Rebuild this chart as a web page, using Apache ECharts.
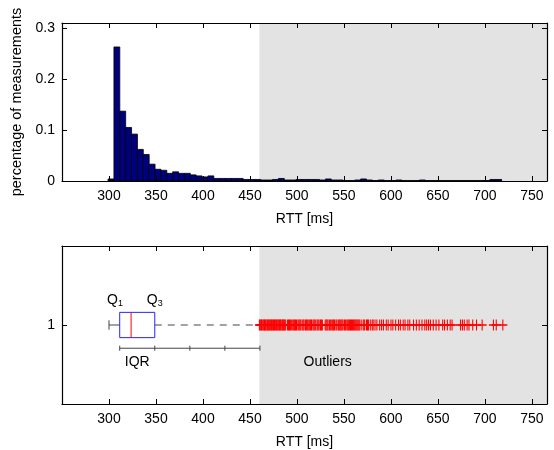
<!DOCTYPE html>
<html><head><meta charset="utf-8">
<script src="https://cdn.jsdelivr.net/npm/echarts@6/dist/echarts.min.js"></script>
<style>html,body{margin:0;padding:0;background:#fff}#c{width:554px;height:450px}</style>
</head><body><div id="c"></div>
<script>
// ---- data ----
const binStart = 299;
const binWidth = 6.25;
const histValues = [
  0.004, 0.263, 0.137, 0.105, 0.092, 0.062, 0.052, 0.033, 0.023, 0.021,
  0.015, 0.018, 0.015, 0.015, 0.012, 0.010, 0.008, 0.010, 0.005, 0.005,
  0.005, 0.005, 0.005, 0.003, 0.003, 0.003, 0.002, 0.002, 0.003, 0.005,
  0.002, 0.002, 0.003, 0.003, 0.003, 0.003, 0.002, 0.004, 0.002, 0.002,
  0.001, 0.001, 0.002, 0.004, 0.002, 0.001, 0.002, 0.001, 0.001, 0.002,
  0.001, 0.001, 0.001, 0.002, 0.001, 0.001, 0.001, 0.001, 0.001, 0.001,
  0.001, 0.001, 0.001, 0.001, 0.001, 0.003, 0.003
];
const boxStats = [300, 311.4, 323.5, 348.7, 460]; // lower whisker, Q1, median, Q3, upper whisker
const outliers = [
  460, 460.8, 461.5, 462.3, 463, 464, 464.8, 465.5, 466.3, 467, 468, 468.8, 469.5, 470.3, 471, 472, 472.8, 473.5, 474.3, 475,
  476, 476.8, 477.5, 478.3, 479, 480, 480.8, 481.5, 482.3, 483, 484, 484.8, 485.5, 486.3, 487, 488,
  490, 491, 492, 493, 494, 495.5, 496.5, 497.5, 498.5, 499.5, 501, 502, 503, 504, 505.5, 506.5, 507.5, 509, 510, 511,
  512, 513.5, 514.5, 515.5, 517, 518, 519, 520, 521.5, 522.5, 523.5, 525, 526, 527,
  530, 531, 532, 533, 534.5, 535.5, 537, 538, 539, 540, 541.5, 542.5, 544, 545, 546, 547, 548, 549, 550.5, 551.5,
  553, 554, 555, 556, 557, 558, 559, 560, 561, 562, 563, 564, 565, 566, 567,
  569, 571, 572, 574, 575, 576, 578, 580, 581, 583, 585, 588, 590, 592, 595, 597, 600, 602, 605, 608, 610, 613, 615, 618, 620,
  624, 627, 630, 633, 636, 638, 640, 642, 645, 648, 651, 655, 657, 660, 663, 665, 674, 676, 678, 681, 683, 687, 691, 697, 709, 712, 719
];
const outlierStart = 460;
const xMin = 250, xMax = 766, xStep = 50;
const histYMax = 0.31, histYStep = 0.1;
const xTitle = 'RTT [ms]';
const yTitle = 'percentage of measurements';

// ---- chart ----
const FONT = '"Liberation Sans", Arial, sans-serif';
const FS = 14;
const chart = echarts.init(document.getElementById('c'), null, {renderer: 'canvas'});

function xAx(grid, bottom) {
  return {
    type: 'value', gridIndex: grid, position: bottom ? 'bottom' : 'top',
    min: xMin, max: xMax, interval: xStep, z: 10,
    name: bottom ? xTitle : '', nameLocation: 'middle', nameGap: 31,
    nameTextStyle: {fontFamily: FONT, fontSize: FS, color: '#000'},
    axisLine: {show: true, onZero: false, lineStyle: {color: '#000', width: 1.2}},
    axisTick: {show: true, inside: true, length: 5, lineStyle: {color: '#000'}},
    axisLabel: {show: bottom, showMinLabel: false, showMaxLabel: false, margin: 8,
      fontFamily: FONT, fontSize: FS, color: '#000'},
    splitLine: {show: false}
  };
}
function yAx(grid, left, min, max, step, name, fmt) {
  return {
    type: 'value', gridIndex: grid, position: left ? 'left' : 'right',
    min: min, max: max, interval: step, z: 10,
    name: left ? name : '', nameLocation: 'middle', nameGap: 36,
    nameTextStyle: {fontFamily: FONT, fontSize: 14.5, color: '#000'},
    axisLine: {show: true, onZero: false, lineStyle: {color: '#000', width: 1.2}},
    axisTick: {show: true, inside: true, length: 5, lineStyle: {color: '#000'}},
    axisLabel: {show: left, showMaxLabel: false, showMinLabel: fmt ? false : true, margin: 7,
      fontFamily: FONT, fontSize: FS, color: '#000', formatter: fmt || (v => String(+v.toFixed(2)))},
    splitLine: {show: false}
  };
}

function shadeItem(params, api) {
  const cs = params.coordSys;
  const x0 = api.coord([api.value(0), 0])[0];
  return {type: 'rect', shape: {x: x0, y: cs.y, width: cs.x + cs.width - x0, height: cs.height},
    style: {fill: '#e3e3e3'}};
}

const gray = '#444';
function boxItem(params, api) {
  const [lo, q1, med, q3, hi] = [0,1,2,3,4].map(i => api.value(i));
  const iqr = q3 - q1;
  const c = (x, y) => api.coord([x, y]);
  const line = (a, b, st) => ({type: 'line', shape: {x1: a[0], y1: a[1], x2: b[0], y2: b[1]}, style: st});
  const g = {stroke: gray, lineWidth: 1};
  const ch = [];
  ch.push(line(c(lo, 1), c(q1, 1), g));
  ch.push(line(c(lo, 0.97), c(lo, 1.03), g));
  ch.push(line(c(q3, 1), c(hi, 1), {stroke: gray, lineWidth: 1, lineDash: [7, 6]}));
  const bt = c(q1, 1.08), bb = c(q3, 0.92);
  ch.push({type: 'rect', shape: {x: bt[0], y: bt[1], width: bb[0] - bt[0], height: bb[1] - bt[1]},
    style: {fill: null, stroke: '#2424ff', lineWidth: 1}});
  ch.push(line(c(med, 0.92), c(med, 1.08), {stroke: '#ff0000', lineWidth: 1}));
  // IQR bracket
  const by = 0.853;
  ch.push(line(c(q1, by), c(q1 + 4 * iqr, by), g));
  for (let k = 0; k <= 4; k++) ch.push(line(c(q1 + k * iqr, by - 0.016), c(q1 + k * iqr, by + 0.016), g));
  // annotations
  const txt = (p, text, align, rich) => ({type: 'text', x: p[0], y: p[1],
    style: {text: text, fontFamily: FONT, fontSize: FS, fill: '#000', align: align, verticalAlign: 'middle', rich: rich}});
  const sub = {a: {fontFamily: FONT, fontSize: FS, lineHeight: 16}, b: {fontFamily: FONT, fontSize: 9, lineHeight: 9, verticalAlign: 'bottom'}};
  ch.push(txt(c(q1 - 5, 1.158), '{a|Q}{b|1}', 'center', sub));
  ch.push(txt(c(q3, 1.158), '{a|Q}{b|3}', 'center', sub));
  ch.push(txt(c((q1 + q3) / 2, 0.766), 'IQR', 'center'));
  ch.push(txt(c(outlierStart + 47, 0.766), 'Outliers', 'left'));
  return {type: 'group', children: ch};
}

const option = {
  animation: false,
  backgroundColor: '#fff',
  grid: [
    {left: 62, right: 7, top: 23, height: 158},
    {left: 62, right: 7, top: 246, height: 158}
  ],
  xAxis: [xAx(0, true), xAx(0, false), xAx(1, true), xAx(1, false)],
  yAxis: [
    yAx(0, true, 0, histYMax, histYStep, yTitle),
    yAx(0, false, 0, histYMax, histYStep, ''),
    yAx(1, true, 0.5, 1.5, 0.5, '', v => (v === 1 ? '1' : '')),
    yAx(1, false, 0.5, 1.5, 0.5, '', v => '')
  ],
  series: [
    {type: 'custom', xAxisIndex: 0, yAxisIndex: 0, z: 1, silent: true,
      data: [[outlierStart, 0]], renderItem: shadeItem},
    {type: 'custom', xAxisIndex: 2, yAxisIndex: 2, z: 1, silent: true,
      data: [[outlierStart, 1]], renderItem: shadeItem},
    {type: 'custom', xAxisIndex: 0, yAxisIndex: 0, z: 3, silent: true,
      data: histValues.map((v, i) => [binStart + i * binWidth, binStart + (i + 1) * binWidth, v]),
      encode: {x: [0, 1], y: 2},
      renderItem: (params, api) => {
        const p0 = api.coord([api.value(0), 0]);
        const p1 = api.coord([api.value(1), api.value(2)]);
        return {type: 'rect', shape: {x: p0[0], y: p1[1], width: p1[0] - p0[0], height: p0[1] - p1[1]},
          style: {fill: '#00007f', stroke: '#000', lineWidth: 0.8}};
      }},
    {type: 'custom', xAxisIndex: 2, yAxisIndex: 2, z: 3, silent: true,
      data: [boxStats], renderItem: boxItem},
    {type: 'scatter', xAxisIndex: 2, yAxisIndex: 2, z: 4, silent: true,
      data: outliers.map(v => [v, 1]),
      symbol: 'path://M4.4,0H5.6V4.4H10V5.6H5.6V10H4.4V5.6H0V4.4H4.4Z',
      symbolSize: [9, 11], itemStyle: {color: '#ff0000', opacity: 1}}
  ]
};
chart.setOption(option);
</script>
</body></html>
